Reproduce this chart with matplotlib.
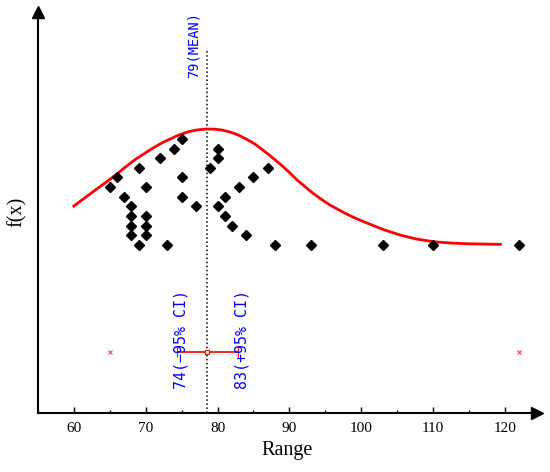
import matplotlib
matplotlib.use("Agg")
import matplotlib.pyplot as plt
from matplotlib.ticker import MultipleLocator

# ---------------------------------------------------------------------------
# Données
# ---------------------------------------------------------------------------
pts_x = [75, 74, 72, 69, 66, 65, 75, 70, 67, 75, 77, 68, 68, 70, 68, 70, 68, 70,
         69, 73, 80, 80, 79, 87, 85, 83, 81, 80, 81, 82, 84, 88, 93, 103, 110, 122]
pts_y = [11, 10, 9, 8, 7, 6, 7, 6, 5, 5, 4, 4, 3, 3, 2, 2, 1, 1,
         0, 0, 10, 9, 8, 8, 7, 6, 5, 4, 3, 2, 1, 0, 0, 0, 0, 0]

curve_x = [60.0, 61.0, 62.2, 63.1, 64.1, 65.0, 66.0, 66.9, 67.8, 68.7, 69.7, 70.6,
           71.5, 72.4, 73.4, 74.3, 75.2, 76.1, 77.1, 78.5, 79.5, 80.6, 81.7,
           82.9, 84.0, 85.2, 86.3, 87.5, 88.7, 89.9, 91.0, 92.2, 93.3, 94.5,
           95.6, 96.8, 97.8, 98.9, 100.8, 103.1, 105.4, 107.7, 110.1, 112.4,
           114.7, 117.0, 119.4]
curve_y = [4.04, 4.60, 5.26, 5.76, 6.30, 6.80, 7.36, 7.92, 8.44, 8.95, 9.42, 9.86,
           10.26, 10.64, 10.98, 11.30, 11.56, 11.77, 11.92, 12.02, 12.01, 11.92,
           11.72, 11.40, 10.98, 10.47, 9.85, 9.15, 8.40, 7.60, 6.80, 6.04, 5.36,
           4.72, 4.17, 3.68, 3.28, 2.88, 2.28, 1.60, 1.04, 0.62, 0.34, 0.21, 0.13,
           0.10, 0.07]

mean = 78.6
ci_low, ci_high = 74.4, 82.8
x_min, x_max = 65, 122
mean_label = "79(MEAN)"
ci_low_label = "74(\u221295% CI)"
ci_high_label = "83(+95% CI)"

# ---------------------------------------------------------------------------
# Figure
# ---------------------------------------------------------------------------
plt.rcParams["font.family"] = ["Liberation Serif", "DejaVu Serif"]

fig = plt.figure(figsize=(5.5, 4.72), dpi=100)
ax = fig.add_axes([0.0691, 0.1256, 0.9073, 0.849])

y_bot, y_top = -17.38, 24.15
ax.set_xlim(55, 124.5)
ax.set_ylim(y_bot, y_top)

# courbe + points
ax.plot(curve_x, curve_y, color="red", lw=2, zorder=3, solid_joinstyle="round")
ax.plot(pts_x, pts_y, "D", color="black", ms=5.2, zorder=4)

# moyenne
ax.vlines(mean, y_bot, 20.2, colors="black", linestyles=":", lw=1.1, zorder=2)
ax.text(76.7, 20.7, mean_label, rotation=90, color="blue", ha="center",
        va="center", fontsize=9.8, family="DejaVu Sans Mono")

# intervalle de confiance
y_ci = -11.06
ax.errorbar(mean, y_ci, xerr=[[mean - ci_low], [ci_high - mean]], fmt="s",
            mfc="white", mec="red", ms=3.5, mew=0.8, ecolor="red", elinewidth=1.2,
            capsize=3.5, capthick=1.2, zorder=3)
ax.plot([x_min, x_max], [y_ci, y_ci], "x", color="red", ms=3.5, mew=0.8, alpha=0.75)
ax.text(74.9, -9.84, ci_low_label, rotation=90, color="blue", ha="center",
        va="center", fontsize=10.8, family="DejaVu Sans Mono")
ax.text(83.36, -9.84, ci_high_label, rotation=90, color="blue", ha="center",
        va="center", fontsize=10.8, family="DejaVu Sans Mono")

# axes avec flèches
for side in ["top", "right"]:
    ax.spines[side].set_visible(False)
for side in ["left", "bottom"]:
    ax.spines[side].set_linewidth(1.5)
ax.plot(1, 0, ">", color="black", ms=8, transform=ax.transAxes, clip_on=False)
ax.plot(0, 1, "^", color="black", ms=8, transform=ax.transAxes, clip_on=False)

ax.set_yticks([])
ax.xaxis.set_major_locator(MultipleLocator(10))
ax.xaxis.set_minor_locator(MultipleLocator(5))
ax.set_xticks(range(60, 121, 10))
ax.tick_params(axis="x", which="major", direction="in", length=4.3, width=1, pad=7,
               labelsize=11)
ax.tick_params(axis="x", which="minor", direction="in", length=2.4, width=1)

ax.set_xlabel("Range", fontsize=14.5, labelpad=4)
ax.set_ylabel("f(x)", fontsize=14.5, labelpad=8)

fig.savefig("out.png", dpi=100)
